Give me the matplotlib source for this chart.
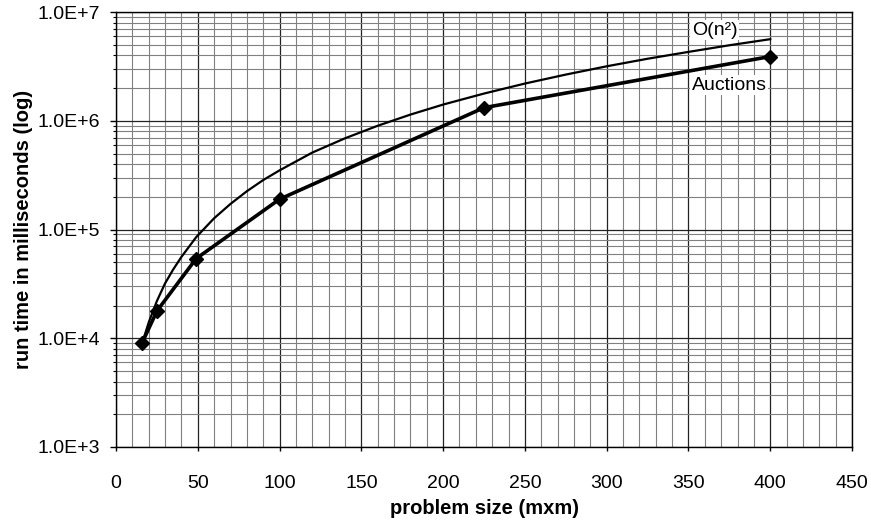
import matplotlib
matplotlib.use("Agg")
import matplotlib.pyplot as plt
import matplotlib.ticker as mticker
import numpy as np

# values
sizes = [16, 25, 49, 100, 225, 400]
auctions = [9.1e3, 1.78e4, 5.4e4, 1.9e5, 1.32e6, 3.9e6]

# O(n^2) reference curve
on2_x = [16, 20, 25, 30, 35, 40, 49, 60, 70, 80, 90, 100, 120, 140, 160,
         180, 200, 225, 250, 275, 300, 325, 350, 375, 400]
on2_y = [9.0e3, 1.4e4, 2.2e4, 3.2e4, 4.3e4, 5.6e4, 8.5e4, 1.27e5, 1.72e5,
         2.25e5, 2.85e5, 3.5e5, 5.1e5, 6.9e5, 9.0e5, 1.14e6, 1.41e6, 1.78e6,
         2.2e6, 2.66e6, 3.17e6, 3.72e6, 4.3e6, 4.95e6, 5.63e6]

x_ticks = [0, 50, 100, 150, 200, 250, 300, 350, 400, 450]
y_ticks = [1e3, 1e4, 1e5, 1e6, 1e7]


def sciLabel(v, pos=None):
    exp = int(round(np.log10(v)))
    mant = v / 10 ** exp
    return "%.1fE+%d" % (mant, exp)


def main():
    plt.rcParams['font.family'] = ['Liberation Sans', 'DejaVu Sans']
    fig = plt.figure(figsize=(8.71, 5.24), dpi=100)
    ax = fig.add_axes([0.1332, 0.147, 0.845, 0.830])

    ax.set_yscale('log')
    ax.set_xlim(0, 450)
    ax.set_ylim(1e3, 1e7)

    ax.set_xticks(x_ticks)
    ax.xaxis.set_minor_locator(mticker.MultipleLocator(10))
    ax.set_yticks(y_ticks)
    ax.yaxis.set_major_formatter(mticker.FuncFormatter(sciLabel))
    ax.yaxis.set_minor_locator(mticker.LogLocator(base=10, subs=np.arange(2, 10)))
    ax.yaxis.set_minor_formatter(mticker.NullFormatter())

    ax.grid(which='minor', color='#808080', linewidth=0.8)
    ax.grid(which='major', color='#222222', linewidth=0.9)
    ax.set_axisbelow(True)

    ax.tick_params(which='major', direction='out', width=1, labelsize=14)
    ax.tick_params(axis='x', which='major', length=3, pad=17)
    ax.tick_params(axis='y', which='major', length=4, pad=7.5)
    ax.tick_params(axis='x', which='minor', length=0)
    ax.tick_params(axis='y', which='minor', direction='out', length=2.5, width=0.8)
    for s in ax.spines.values():
        s.set_color('black')
        s.set_linewidth(1)

    ax.plot(on2_x, on2_y, color='black', linewidth=1.6, zorder=3)
    ax.plot(sizes, auctions, color='black', linewidth=2.6, marker='D',
            markersize=7.5, zorder=4)

    ax.text(366, 6.8e6, "O(n²)", fontsize=14, ha='center', va='center',
            bbox=dict(facecolor='white', edgecolor='none', pad=1), zorder=5)
    ax.text(375, 2.12e6, "Auctions", fontsize=14, ha='center', va='center',
            bbox=dict(facecolor='white', edgecolor='none', pad=1), zorder=5)

    ax.set_xlabel("problem size (mxm)", fontsize=14.5, fontweight='bold', labelpad=5)
    ax.set_ylabel("run time in milliseconds (log)", fontsize=14.5, fontweight='bold',
                  labelpad=3)

    fig.savefig("out.png", dpi=100)


if __name__ == "__main__":
    main()
